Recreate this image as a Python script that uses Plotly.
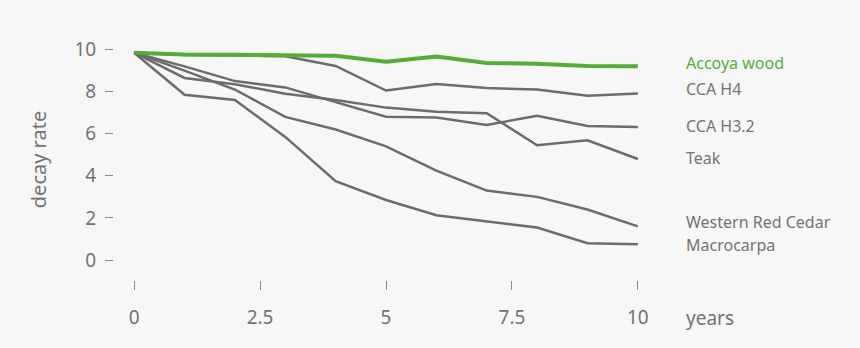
import plotly.graph_objects as go

years = [0, 1, 2, 3, 4, 5, 6, 7, 8, 9, 10]

accoya = [9.85, 9.76, 9.75, 9.72, 9.70, 9.42, 9.67, 9.36, 9.33, 9.22, 9.20]
cca_h4 = [9.85, 9.74, 9.72, 9.68, 9.22, 8.05, 8.36, 8.17, 8.10, 7.80, 7.91]
cca_h32 = [9.85, 9.20, 8.50, 8.20, 7.50, 6.81, 6.77, 6.42, 6.85, 6.37, 6.32]
teak = [9.85, 8.65, 8.35, 7.90, 7.60, 7.24, 7.04, 6.97, 5.45, 5.69, 4.80]
western_red_cedar = [9.85, 9.00, 8.10, 6.80, 6.20, 5.40, 4.25, 3.30, 3.00, 2.40, 1.60]
macrocarpa = [9.85, 7.85, 7.60, 5.85, 3.75, 2.85, 2.13, 1.85, 1.54, 0.80, 0.75]

series_names = ["Accoya wood", "CCA H4", "CCA H3.2", "Teak", "Western Red Cedar", "Macrocarpa"]
series_values = [accoya, cca_h4, cca_h32, teak, western_red_cedar, macrocarpa]
label_y = [9.35, 8.12, 6.36, 4.84, 1.80, 0.71]

x_tickvals = [0, 2.5, 5, 7.5, 10]
x_ticktext = ["0", "2.5", "5", "7.5", "10"]
y_tickvals = [0, 2, 4, 6, 8, 10]
y_ticktext = ["0", "2", "4", "6", "8", "10"]

GREEN = "#50b034"
GRAY = "#6c6c6c"
TEXT = "#737373"
BG = "#f7f7f7"
FONT = "Noto Sans"

fig = go.Figure()
# gray lines first so green is on top
for name, vals in list(zip(series_names, series_values))[::-1]:
    is_green = name == "Accoya wood"
    fig.add_trace(go.Scatter(
        x=years, y=vals, mode="lines", name=name,
        line=dict(color=GREEN if is_green else GRAY, width=4 if is_green else 2.5),
        showlegend=False, hoverinfo="skip",
    ))

for name, ly in zip(series_names, label_y):
    fig.add_annotation(
        x=1.048, y=ly, xref="paper", yref="y", text=name, showarrow=False,
        xanchor="left", yanchor="middle",
        font=dict(family=FONT, size=16, color=GREEN if name == "Accoya wood" else TEXT),
    )

fig.add_annotation(
    x=1.048, y=-0.158, xref="paper", yref="paper", text="years", showarrow=False,
    xanchor="left", yanchor="middle",
    font=dict(family=FONT, size=19, color=TEXT),
)

fig.update_layout(
    width=860, height=348,
    margin=dict(l=114, r=202, t=39, b=68),
    paper_bgcolor=BG, plot_bgcolor=BG,
    font=dict(family=FONT, color=TEXT),
    xaxis=dict(
        range=[-0.4, 10.4], tickvals=x_tickvals, ticktext=x_ticktext,
        showgrid=False, zeroline=False, showline=False,
        ticks="outside", ticklen=9, tickwidth=1, tickcolor="#8a8a8a",
        tickfont=dict(family=FONT, size=19, color=TEXT),
        ticklabelstandoff=11,
    ),
    yaxis=dict(
        range=[-0.95, 10.5], tickvals=y_tickvals, ticktext=y_ticktext,
        showgrid=False, zeroline=False, showline=False,
        ticks="outside", ticklen=8, tickwidth=1, tickcolor="#8a8a8a",
        tickfont=dict(family=FONT, size=19, color=TEXT),
        ticklabelstandoff=5,
        title=dict(text="decay rate", font=dict(family=FONT, size=20, color=TEXT), standoff=22),
    ),
)

fig.write_html("out.html")
